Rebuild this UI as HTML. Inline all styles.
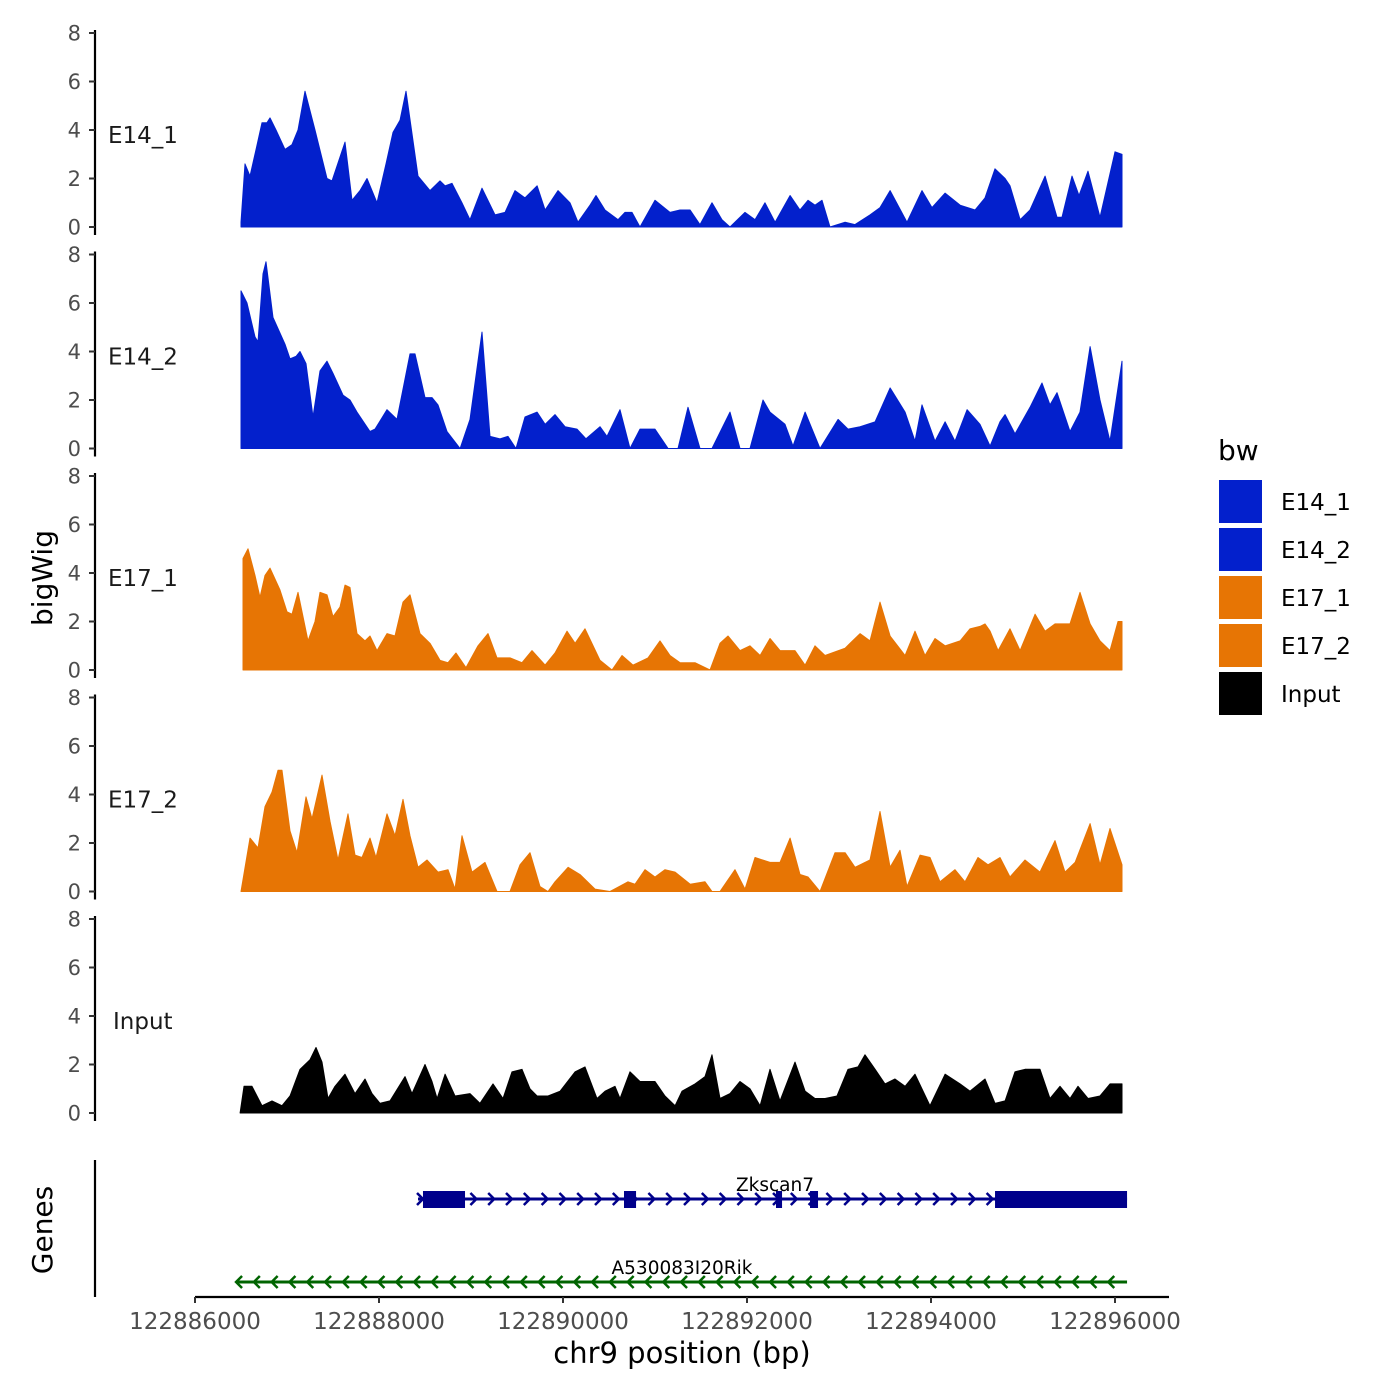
<!DOCTYPE html>
<html><head><meta charset="utf-8"><style>
html,body{margin:0;padding:0;background:#fff}
svg{display:block;font-family:"DejaVu Sans","Liberation Sans",sans-serif}
</style></head><body>
<svg id="chart" width="1400" height="1400" viewBox="0 0 1400 1400" xmlns="http://www.w3.org/2000/svg"></svg>
<script>
const BASE = 122886000;
const trackNames = ["E14_1","E14_2","E17_1","E17_2","Input"];
const trackColors = ["#0320CC","#0320CC","#E77504","#E77504","#000000"];
const yTicks = [0,2,4,6,8];
const xTicks = [122886000,122888000,122890000,122892000,122894000,122896000];

const pos1 = [500,544,598,670,728,783,815,880,978,1054,1120,1196,1304,1435,1489,1630,1707,1794,1870,1978,2076,2152,2228,2294,2424,2554,2663,2718,2794,2902,2989,3120,3261,3370,3478,3587,3718,3805,3946,4076,4163,4294,4359,4457,4598,4674,4750,4837,5000,5163,5272,5381,5489,5620,5728,5815,5978,6087,6196,6305,6468,6576,6663,6739,6815,6902,7066,7174,7337,7446,7555,7739,7902,8011,8153,8316,8479,8587,8696,8805,8859,8968,9076,9240,9370,9424,9533,9609,9707,9837,10000,10076];
const val1 = [0.2,2.6,2.1,3.3,4.3,4.3,4.5,4.0,3.2,3.4,4.0,5.6,4.0,2.0,1.9,3.5,1.1,1.5,2.0,1.0,2.6,3.9,4.4,5.6,2.1,1.5,1.9,1.7,1.8,1.0,0.3,1.6,0.5,0.6,1.5,1.2,1.7,0.7,1.5,1.0,0.2,0.9,1.3,0.7,0.3,0.6,0.6,0,1.1,0.6,0.7,0.7,0.1,1.0,0.3,0,0.6,0.3,1.0,0.2,1.3,0.7,1.1,0.9,1.1,0,0.2,0.1,0.5,0.8,1.5,0.2,1.5,0.8,1.4,0.9,0.7,1.2,2.4,2.0,1.7,0.3,0.7,2.1,0.4,0.4,2.1,1.3,2.3,0.4,3.1,3.0];

const pos2 = [500,565,652,685,739,772,848,978,1033,1098,1141,1207,1283,1359,1435,1500,1609,1685,1761,1902,1957,2087,2196,2337,2391,2500,2576,2641,2739,2881,2989,3120,3207,3315,3402,3489,3587,3718,3805,3913,4022,4152,4250,4402,4478,4620,4728,4837,5000,5142,5250,5359,5489,5620,5815,5924,6033,6174,6250,6413,6500,6631,6794,6990,7098,7229,7392,7555,7718,7826,7902,8044,8153,8261,8392,8533,8642,8750,8805,8913,9076,9207,9294,9370,9511,9620,9729,9837,9946,10076];
const val2 = [6.5,6.0,4.6,4.4,7.2,7.7,5.4,4.3,3.7,3.8,4.0,3.5,1.3,3.2,3.6,3.1,2.2,2.0,1.5,0.7,0.8,1.6,1.2,3.9,3.9,2.1,2.1,1.8,0.7,0,1.2,4.8,0.5,0.4,0.5,0,1.3,1.5,1.0,1.4,0.9,0.8,0.4,0.9,0.5,1.6,0,0.8,0.8,0,0,1.7,0,0,1.5,0,0,2.0,1.5,1.0,0.1,1.5,0,1.2,0.8,0.9,1.1,2.5,1.5,0.3,1.8,0.3,1.1,0.3,1.6,1.0,0.1,1.1,1.4,0.6,1.7,2.7,1.8,2.3,0.7,1.5,4.2,2.0,0.3,3.6];

const pos3 = [522,576,652,707,761,815,924,1000,1054,1120,1174,1228,1304,1359,1435,1500,1576,1630,1685,1761,1848,1902,1978,2087,2174,2261,2337,2446,2554,2663,2750,2837,2946,3076,3185,3283,3424,3554,3663,3805,3913,4044,4131,4239,4402,4533,4641,4761,4924,5054,5163,5272,5435,5598,5707,5794,5924,6033,6142,6250,6359,6522,6631,6739,6848,7066,7120,7229,7337,7446,7555,7718,7826,7935,8044,8153,8316,8424,8533,8587,8642,8729,8859,8968,9131,9240,9348,9511,9620,9729,9837,9946,10033,10076];
const val3 = [4.6,5.0,3.9,3.0,3.9,4.2,3.3,2.4,2.3,3.2,2.2,1.2,2.0,3.2,3.1,2.2,2.6,3.5,3.4,1.5,1.2,1.4,0.8,1.5,1.4,2.8,3.1,1.5,1.1,0.4,0.3,0.7,0.1,1.0,1.5,0.5,0.5,0.3,0.8,0.2,0.7,1.6,1.1,1.7,0.4,0,0.6,0.2,0.5,1.2,0.6,0.3,0.3,0,1.1,1.4,0.8,1.0,0.6,1.3,0.8,0.8,0.2,1.0,0.6,0.9,1.1,1.5,1.2,2.8,1.4,0.6,1.6,0.6,1.3,1.0,1.2,1.7,1.8,1.9,1.6,0.8,1.7,0.8,2.3,1.6,1.9,1.9,3.2,1.9,1.2,0.8,2.0,2.0];

const pos4 = [500,598,685,761,837,902,946,1033,1109,1207,1272,1380,1467,1554,1663,1739,1815,1902,1967,2087,2174,2261,2337,2424,2522,2641,2750,2826,2902,3011,3152,3283,3424,3533,3641,3750,3837,3913,4055,4185,4348,4511,4707,4783,4891,5000,5109,5218,5381,5544,5620,5707,5870,5978,6087,6250,6359,6468,6576,6663,6794,6957,7066,7174,7337,7446,7555,7663,7739,7881,7989,8098,8261,8370,8511,8620,8750,8859,9022,9185,9348,9457,9566,9729,9837,9946,10076];
const val4 = [0,2.2,1.8,3.5,4.1,5.0,5.0,2.5,1.6,3.9,3.0,4.8,2.9,1.3,3.2,1.5,1.4,2.2,1.4,3.2,2.3,3.8,2.3,1.0,1.3,0.8,0.9,0.1,2.3,0.8,1.2,0,0,1.1,1.6,0.2,0,0.4,1.0,0.7,0.1,0,0.4,0.3,0.9,0.6,0.9,0.8,0.3,0.4,0,0,0.9,0.1,1.4,1.2,1.2,2.2,0.7,0.6,0,1.6,1.6,1.0,1.3,3.3,1.0,1.7,0.2,1.5,1.4,0.4,0.9,0.4,1.4,1.1,1.4,0.6,1.3,0.8,2.1,0.8,1.2,2.8,1.1,2.6,1.1];

const pos5 = [490,533,620,728,837,946,1033,1141,1250,1315,1380,1446,1522,1630,1739,1848,1924,2011,2120,2283,2359,2500,2576,2631,2718,2826,2989,3098,3239,3348,3446,3554,3641,3718,3837,3968,4131,4239,4370,4457,4565,4620,4728,4837,5000,5109,5218,5294,5435,5544,5620,5707,5815,5924,6033,6142,6250,6359,6522,6631,6739,6848,6978,7098,7207,7283,7392,7500,7609,7718,7826,7989,8153,8316,8424,8587,8696,8805,8913,9022,9185,9294,9402,9511,9598,9707,9837,9946,10076];
const val5 = [0,1.1,1.1,0.3,0.5,0.3,0.7,1.8,2.2,2.7,2.1,0.6,1.1,1.6,0.8,1.4,0.8,0.4,0.5,1.5,0.8,2.0,1.3,0.6,1.6,0.7,0.8,0.4,1.2,0.6,1.7,1.8,1.0,0.7,0.7,0.9,1.7,1.9,0.6,0.9,1.1,0.6,1.7,1.3,1.3,0.7,0.3,0.9,1.2,1.5,2.4,0.6,0.8,1.3,1.0,0.3,1.8,0.5,2.1,0.9,0.6,0.6,0.7,1.8,1.9,2.4,1.8,1.2,1.4,1.1,1.6,0.3,1.6,1.2,0.9,1.4,0.4,0.5,1.7,1.8,1.8,0.6,1.1,0.6,1.1,0.6,0.7,1.2,1.2];

const trackPos = [pos1,pos2,pos3,pos4,pos5];
const trackVal = [val1,val2,val3,val4,val5];

const geneNames = ["Zkscan7","A530083I20Rik"];
const geneStart = [2424,457];
const geneEnd = [10131,10131];
const geneStrand = ["+","-"];
const zkExonStart = [2478,4663,6315,6685,8696];
const zkExonEnd = [2935,4794,6381,6772,10131];

const NS = "http://www.w3.org/2000/svg";
const svg = document.getElementById("chart");
function el(tag, attrs, parent){const e=document.createElementNS(NS,tag);for(const k in attrs)e.setAttribute(k,attrs[k]);(parent||svg).appendChild(e);return e;}
function xScale(bp){return 195 + (bp - BASE) * 0.092;}
const panelZero = [227,448.5,670,891.5,1113];
const unitPx = 24.25;
function yScale(i,v){return panelZero[i] - v*unitPx;}

for(let i=0;i<5;i++){
  const g = el("g",{});
  
  
  const z = panelZero[i];
  const ax = el("line",{x1:95,x2:95,y1:yScale(i,8)-3,y2:z+8,stroke:"#000","stroke-width":2.2},g);
  
  
  yTicks.forEach(t=>{
    const y=yScale(i,t);
    const tk=el("line",{x1:89,x2:95,y1:y,y2:y,stroke:"#333","stroke-width":2},g);
    
    
    const tx=el("text",{x:81,y:y+7.5,"text-anchor":"end","font-size":21,fill:"#4d4d4d"},g);
    tx.textContent=t;
    
    
  });
  const P=trackPos[i], V=trackVal[i];
  let d="M"+xScale(BASE+P[0]).toFixed(1)+","+z;
  for(let k=0;k<P.length;k++) d+=" L"+xScale(BASE+P[k]).toFixed(1)+","+yScale(i,V[k]).toFixed(1);
  d+=" L"+xScale(BASE+P[P.length-1]).toFixed(1)+","+z+" Z";
  const area=el("path",{d:d,fill:trackColors[i],stroke:trackColors[i],"stroke-width":1,"stroke-linejoin":"round"},g);
  
  
  const lb=el("text",{x:i===4?113:108,y:yScale(i,3.8)+8,"font-size":23,fill:"#1a1a1a"},g);
  lb.textContent=trackNames[i];
  
  
}

const yt=el("text",{x:0,y:0,"font-size":28,"text-anchor":"middle",transform:"translate(52,578) rotate(-90)"});
yt.textContent="bigWig";



const ga=el("line",{x1:95,x2:95,y1:1160,y2:1297,stroke:"#000","stroke-width":2.2});


const gt=el("text",{x:0,y:0,"font-size":28,"text-anchor":"middle",transform:"translate(52,1230) rotate(-90)"});
gt.textContent="Genes";



const geneY=[1199,1282], geneCol=["#00008B","#006400"], labelY=[1191,1274], labelX=[775,682];
for(let gi=0;gi<2;gi++){
  const g=el("g",{});
  
  
  const x1=xScale(BASE+geneStart[gi]), x2=xScale(BASE+geneEnd[gi]), y=geneY[gi];
  el("line",{x1:x1,x2:x2,y1:y,y2:y,stroke:geneCol[gi],"stroke-width":3},g);
  for(let x=x1+2;x<x2-4;x+=17.8){
    const dir=geneStrand[gi]==="+"?1:-1;
    el("polyline",{points:(x-3*dir)+","+(y-6)+" "+(x+3*dir)+","+y+" "+(x-3*dir)+","+(y+6),fill:"none",stroke:geneCol[gi],"stroke-width":2.5},g);
  }
  if(gi===0){
    for(let e=0;e<zkExonStart.length;e++){
      const ex=el("rect",{x:xScale(BASE+zkExonStart[e]),y:1191,width:xScale(BASE+zkExonEnd[e])-xScale(BASE+zkExonStart[e]),height:17,fill:geneCol[gi]},g);
      
      
    }
  }
  const t=el("text",{x:labelX[gi],y:labelY[gi],"text-anchor":"middle","font-size":18.5,fill:"#000"},g);
  t.textContent=geneNames[gi];
  
  
}

const xa=el("line",{x1:195,x2:1169,y1:1297,y2:1297,stroke:"#000","stroke-width":2.2});


xTicks.forEach(t=>{
  const x=xScale(t);
  const tk=el("line",{x1:x,x2:x,y1:1297,y2:1303,stroke:"#333","stroke-width":2});
  
  
  const tx=el("text",{x:x,y:1329,"text-anchor":"middle","font-size":23,fill:"#4d4d4d"});
  tx.textContent=t;
  
  
});
const xt=el("text",{x:682,y:1363,"text-anchor":"middle","font-size":29});
xt.textContent="chr9 position (bp)";



const lg=el("g",{});


const lt=el("text",{x:1218,y:460,"font-size":28},lg);
lt.textContent="bw";


for(let i=0;i<5;i++){
  const r=el("rect",{x:1219,y:480+48*i,width:43,height:43,fill:trackColors[i]},lg);
  
  
  const t=el("text",{x:1281,y:510+48*i,"font-size":23},lg);
  t.textContent=trackNames[i];
  
  
}
</script>
</body></html>
